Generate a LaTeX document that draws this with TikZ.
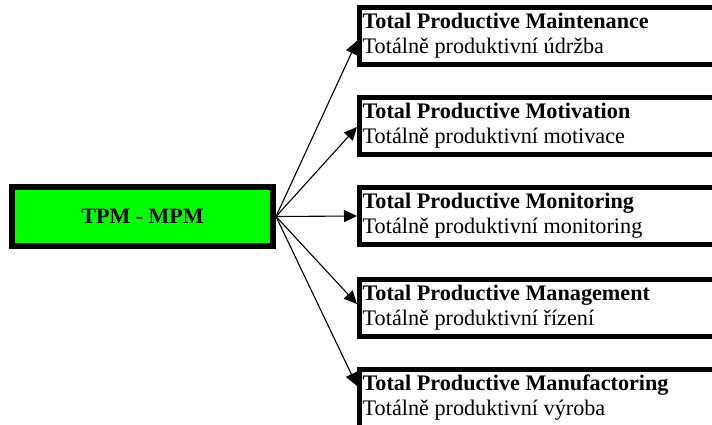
\documentclass[tikz,border=0pt]{standalone}
\usepackage{fontspec}
\setmainfont{Liberation Serif}
\usetikzlibrary{arrows.meta}
\definecolor{tpmgreen}{HTML}{00FF00}
\tikzset{
  mainbox/.style={draw=black, line width=6pt, fill=tpmgreen, minimum width=261pt,
    minimum height=59pt, inner sep=0pt, font=\fontsize{22}{26}\selectfont\bfseries},
  itembox/.style={draw=black, line width=5pt, minimum width=380pt, minimum height=57pt,
    inner sep=0pt, anchor=north west},
  titletxt/.style={anchor=base west, inner sep=0pt, font=\fontsize{22.2}{26}\selectfont\bfseries},
  subtxt/.style={anchor=base west, inner sep=0pt, font=\fontsize{22.2}{26}\selectfont},
  link/.style={line width=1.1pt, -{Triangle[length=13pt,width=12pt]}}
}
\begin{document}
\begin{tikzpicture}[x=1pt,y=-1pt]
\useasboundingbox (0,0) rectangle (712,425);
\clip (0,0) rectangle (712,425);
\node[mainbox] (b0) at (142.5,216.5) {TPM - MPM};
\node[itembox] (b1) at (357,5) {};
\node[itembox] (b2) at (357,95) {};
\node[itembox] (b3) at (357,185) {};
\node[itembox] (b4) at (357,277) {};
\node[itembox, minimum height=80pt] (b5) at (357,367) {};
\foreach \i/\ti/\su in {1/Maintenance/údržba, 2/Motivation/motivace, 3/Monitoring/monitoring, 4/Management/řízení, 5/Manufactoring/výroba}{
  \node[titletxt] (t\i) at ([xshift=5.5pt,yshift=-23.5pt]b\i.north west) {Total Productive \ti};
  \node[subtxt] (s\i) at ([xshift=5.5pt,yshift=-48.5pt]b\i.north west) {Totálně produktivní \su};
}
\draw[link] (b0.east) -- ([yshift=-36pt]b1.north west);
\draw[link] (b0.east) -- ([yshift=-32pt]b2.north west);
\draw[link] (b0.east) -- ([yshift=-31pt]b3.north west);
\draw[link] (b0.east) -- ([yshift=-27pt]b4.north west);
\draw[link] (b0.east) -- ([yshift=-19pt]b5.north west);
\end{tikzpicture}
\end{document}
